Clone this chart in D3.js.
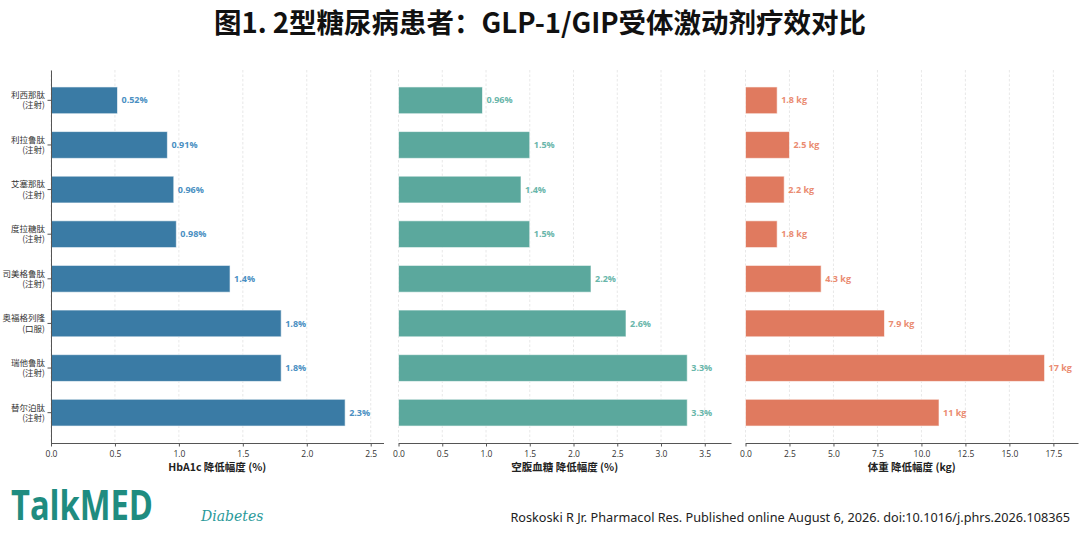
<!DOCTYPE html>
<html>
<head>
<meta charset="utf-8">
<script src="https://d3js.org/d3.v7.min.js"></script>
<style>
  body { margin: 0; background: #fff; }
  svg { display: block; font-family: "Noto Sans CJK SC", "Noto Sans", sans-serif; }
</style>
</head>
<body>
<svg id="chart" width="1080" height="533"></svg>
<script>
// drugs, top to bottom
const drugs = ["利西那肽", "利拉鲁肽", "艾塞那肽", "度拉糖肽", "司美格鲁肽", "奥福格列隆", "瑞他鲁肽", "替尔泊肽"];
const routes = ["(注射)", "(注射)", "(注射)", "(注射)", "(注射)", "(口服)", "(注射)", "(注射)"];

// reductions
const hba1c = [0.52, 0.91, 0.96, 0.98, 1.4, 1.8, 1.8, 2.3];
const fpg = [0.96, 1.5, 1.4, 1.5, 2.2, 2.6, 3.3, 3.3];
const weight = [1.8, 2.5, 2.2, 1.8, 4.3, 7.9, 17, 11];

const hba1cTicks = [0, 0.5, 1.0, 1.5, 2.0, 2.5];
const fpgTicks = [0, 0.5, 1.0, 1.5, 2.0, 2.5, 3.0, 3.5];
const weightTicks = [0, 2.5, 5.0, 7.5, 10.0, 12.5, 15.0, 17.5];

const axisTitles = ["HbA1c 降低幅度 (%)", "空腹血糖 降低幅度 (%)", "体重 降低幅度 (kg)"];
const units = ["%", "%", " kg"];

const svg = d3.select("#chart");

// title
svg.append("text")
  .attr("x", 540).attr("y", 33)
  .attr("text-anchor", "middle")
  .style("font-size", "27.5px").style("font-weight", "bold").style("fill", "#111")
  .text("图1. 2型糖尿病患者：GLP-1/GIP受体激动剂疗效对比");

const plotTop = 70, plotBottom = 443;

const y = d3.scaleBand()
  .domain(drugs)
  .range([plotTop, plotBottom])
  .paddingInner(0.4)
  .paddingOuter(0.38);

const panels = [
  { values: hba1c, ticks: hba1cTicks, xmax: 2.6, left: 51, right: 383.5, bar: "#3a7ba5", label: "#4a8fc2" },
  { values: fpg, ticks: fpgTicks, xmax: 3.8, left: 398.5, right: 731, bar: "#5ba89d", label: "#69b6aa" },
  { values: weight, ticks: weightTicks, xmax: 18.9, left: 745.5, right: 1078, bar: "#e07a5f", label: "#ea8b71" }
];

const fmt = d3.format(".2~g");

panels.forEach(function(p, i) {
  var x = d3.scaleLinear().domain([0, p.xmax]).range([p.left, p.right]);
  var g = svg.append("g");

  // dashed grid
  g.selectAll(".grid")
    .data(p.ticks)
    .enter()
    .append("line")
    .attr("x1", function(d) { return x(d); })
    .attr("x2", function(d) { return x(d); })
    .attr("y1", plotTop).attr("y2", plotBottom)
    .style("stroke", "#e2e2e2")
    .style("stroke-width", 0.8)
    .style("stroke-dasharray", "2.5,2");

  // bars
  g.selectAll(".bar")
    .data(p.values)
    .enter()
    .append("rect")
    .attr("x", x(0))
    .attr("y", function(d, j) { return y(drugs[j]); })
    .attr("width", function(d) { return x(d) - x(0); })
    .attr("height", y.bandwidth())
    .style("fill", p.bar)
    .style("stroke", "#ffffff")
    .style("stroke-opacity", 0.6)
    .style("stroke-width", 1);

  // value labels
  g.selectAll(".val")
    .data(p.values)
    .enter()
    .append("text")
    .attr("x", function(d) { return x(d) + 4; })
    .attr("y", function(d, j) { return y(drugs[j]) + y.bandwidth() / 2; })
    .attr("dy", "0.35em")
    .style("font-family", "'Open Sans', 'Noto Sans', sans-serif")
    .style("font-size", "9px")
    .style("font-weight", "bold")
    .style("fill", p.label)
    .text(function(d) { return fmt(d) + units[i]; });

  // x axis
  var xAxis = d3.axisBottom(x)
    .tickValues(p.ticks)
    .tickFormat(d3.format(".1f"))
    .tickSize(3.5)
    .tickSizeOuter(0);
  var ax = svg.append("g")
    .attr("transform", "translate(0," + plotBottom + ")")
    .call(xAxis);
  ax.select(".domain").style("stroke", "#555").style("stroke-width", 1);
  ax.selectAll(".tick line").style("stroke", "#555");
  ax.selectAll(".tick text")
    .attr("dy", "0.9em")
    .style("font-family", "'Open Sans', 'Noto Sans', sans-serif")
    .style("font-size", "8.5px")
    .style("fill", "#333");

  svg.append("text")
    .attr("x", (p.left + p.right) / 2)
    .attr("y", 471)
    .attr("text-anchor", "middle")
    .style("font-size", "10.5px")
    .style("font-weight", "bold")
    .style("fill", "#222")
    .text(axisTitles[i]);

  // only the first panel keeps its y axis
  if (i === 0) {
    var yAxis = d3.axisLeft(y).tickSize(3.5).tickSizeOuter(0).tickFormat("");
    var ay = svg.append("g")
      .attr("transform", "translate(" + p.left + ",0)")
      .call(yAxis);
    ay.select(".domain").style("stroke", "#555").style("stroke-width", 1);
    ay.selectAll(".tick line").style("stroke", "#555");

    var lab = svg.append("g").selectAll(".ylab")
      .data(drugs)
      .enter()
      .append("text")
      .attr("text-anchor", "end")
      .style("font-size", "8.5px")
      .style("fill", "#333")
      .attr("y", function(d) { return y(d) + y.bandwidth() / 2; });
    lab.append("tspan")
      .attr("x", 45).attr("dy", "-0.25em")
      .text(function(d) { return d; });
    lab.append("tspan")
      .attr("x", 45).attr("dy", "1.2em")
      .text(function(d, j) { return routes[j]; });
  }
});

// footer
svg.append("text")
  .attr("x", 11).attr("y", 520)
  .attr("textLength", 142)
  .attr("lengthAdjust", "spacingAndGlyphs")
  .style("font-family", "'Open Sans', 'Noto Sans', sans-serif")
  .style("font-size", "42px")
  .style("font-weight", "bold")
  .style("fill", "#1f8c80")
  .text("TalkMED");

svg.append("text")
  .attr("x", 201).attr("y", 521)
  .style("font-family", "'DejaVu Serif', serif")
  .style("font-style", "italic")
  .style("font-size", "14px")
  .style("fill", "#2a9a9a")
  .text("Diabetes");

svg.append("text")
  .attr("x", 1070).attr("y", 522)
  .attr("text-anchor", "end")
  .style("font-family", "'Noto Sans', sans-serif")
  .style("font-size", "12.7px")
  .style("fill", "#222")
  .text("Roskoski R Jr. Pharmacol Res. Published online August 6, 2026. doi:10.1016/j.phrs.2026.108365");
</script>
</body>
</html>
